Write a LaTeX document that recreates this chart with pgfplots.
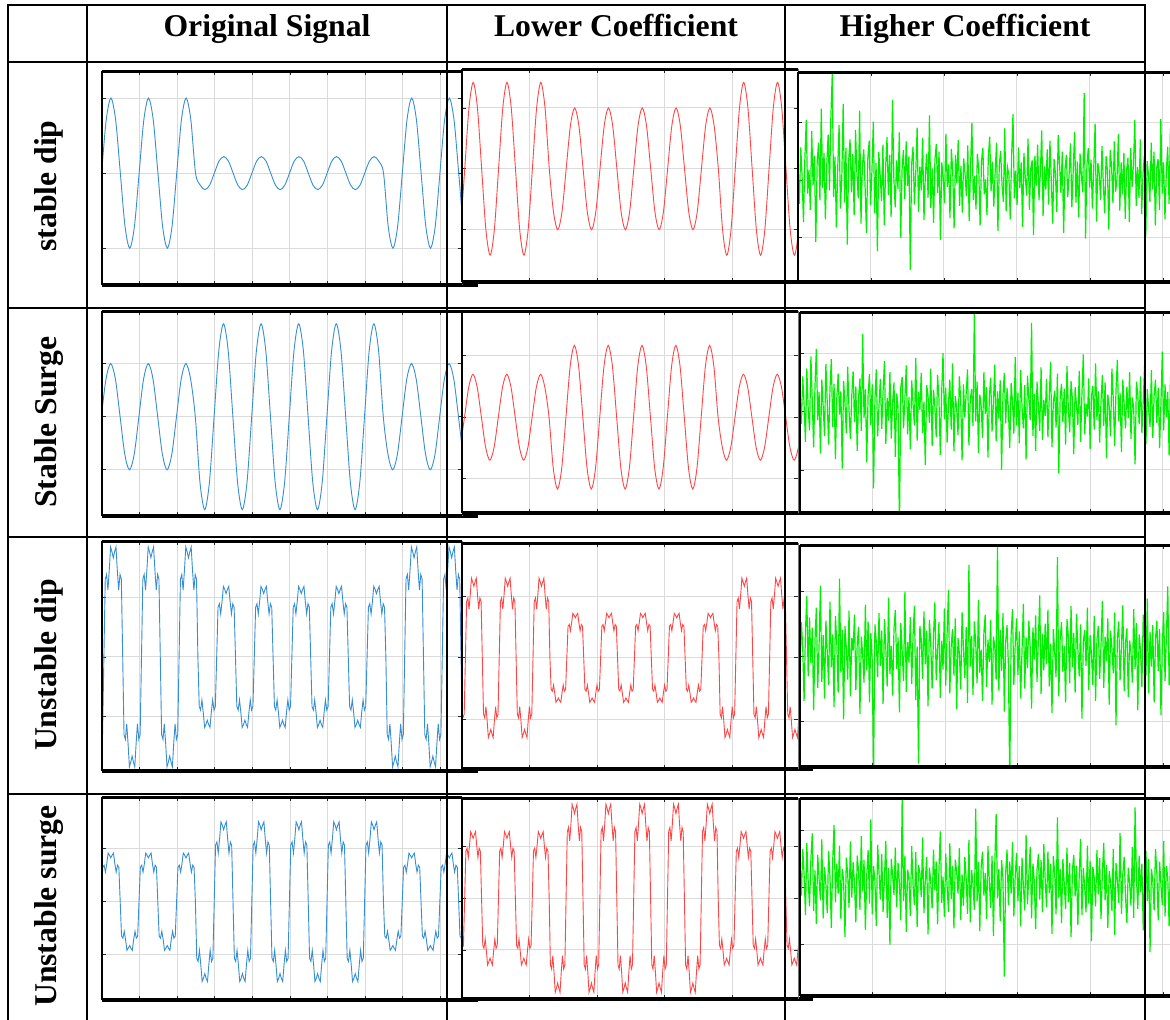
\documentclass[border=0pt]{standalone}
\usepackage{fontspec}
\setmainfont{Liberation Serif}
\usepackage{pgfplots}
\usepackage{pgfplotstable}
\pgfplotsset{compat=1.18}
\definecolor{mblue}{RGB}{55,142,210}
\definecolor{mred}{RGB}{255,70,70}
\definecolor{mgreen}{RGB}{0,240,0}
\newcommand\hf{\fontsize{15.85}{19}\selectfont\bfseries}

% ---------- Original signal, row 1 (stable dip), 8 samples per cycle
\pgfplotstableread[row sep=\\,header=false]{
-.71\\
0\\.71\\1\\.71\\0\\-.71\\-1\\-.71\\
0\\.71\\1\\.71\\0\\-.71\\-1\\-.71\\
0\\.71\\1\\.71\\0\\-.16\\-.22\\-.16\\
0\\.16\\.22\\.16\\0\\-.16\\-.22\\-.16\\
0\\.16\\.22\\.16\\0\\-.16\\-.22\\-.16\\
0\\.16\\.22\\.16\\0\\-.16\\-.22\\-.16\\
0\\.16\\.22\\.16\\0\\-.16\\-.22\\-.16\\
0\\.16\\.22\\.16\\0\\-.71\\-1\\-.71\\
0\\.71\\1\\.71\\0\\-.71\\-1\\-.71\\
0\\.71\\1\\.71\\0\\-.71\\-1\\-.71\\
0\\.71\\
}\tBa
% ---------- Original signal, row 2 (stable surge)
\pgfplotstableread[row sep=\\,header=false]{
-.71\\
0\\.71\\1\\.71\\0\\-.71\\-1\\-.71\\
0\\.71\\1\\.71\\0\\-.71\\-1\\-.71\\
0\\.71\\1\\.71\\0\\-1.24\\-1.75\\-1.24\\
0\\1.24\\1.75\\1.24\\0\\-1.24\\-1.75\\-1.24\\
0\\1.24\\1.75\\1.24\\0\\-1.24\\-1.75\\-1.24\\
0\\1.24\\1.75\\1.24\\0\\-1.24\\-1.75\\-1.24\\
0\\1.24\\1.75\\1.24\\0\\-1.24\\-1.75\\-1.24\\
0\\1.24\\1.75\\1.24\\0\\-.71\\-1\\-.71\\
0\\.71\\1\\.71\\0\\-.71\\-1\\-.71\\
0\\.71\\1\\.71\\0\\-.71\\-1\\-.71\\
0\\.71\\
}\tBb
% ---------- Lower coefficient, row 1
\pgfplotstableread[row sep=\\,header=false]{
-1\\
0\\1\\1.42\\1\\0\\-1\\-1.42\\-1\\
0\\1\\1.42\\1\\0\\-1\\-1.42\\-1\\
0\\1\\1.42\\1\\0\\-.71\\-1\\-.71\\
0\\.71\\1\\.71\\0\\-.71\\-1\\-.71\\
0\\.71\\1\\.71\\0\\-.71\\-1\\-.71\\
0\\.71\\1\\.71\\0\\-.71\\-1\\-.71\\
0\\.71\\1\\.71\\0\\-.71\\-1\\-.71\\
0\\.71\\1\\.71\\0\\-1\\-1.42\\-1\\
0\\1\\1.42\\1\\0\\-1\\-1.42\\-1\\
0\\1\\1.42\\1\\0\\-1\\-1.42\\-1\\
0\\1\\
}\tRa
% ---------- Lower coefficient, row 2
\pgfplotstableread[row sep=\\,header=false]{
-.49\\
0\\.49\\.7\\.49\\0\\-.49\\-.7\\-.49\\
0\\.49\\.7\\.49\\0\\-.49\\-.7\\-.49\\
0\\.49\\.7\\.49\\0\\-.83\\-1.17\\-.83\\
0\\.83\\1.17\\.83\\0\\-.83\\-1.17\\-.83\\
0\\.83\\1.17\\.83\\0\\-.83\\-1.17\\-.83\\
0\\.83\\1.17\\.83\\0\\-.83\\-1.17\\-.83\\
0\\.83\\1.17\\.83\\0\\-.83\\-1.17\\-.83\\
0\\.83\\1.17\\.83\\0\\-.49\\-.7\\-.49\\
0\\.49\\.7\\.49\\0\\-.49\\-.7\\-.49\\
0\\.49\\.7\\.49\\0\\-.49\\-.7\\-.49\\
0\\.49\\
}\tRb
% ---------- Original signal, row 3 (unstable dip), 28 samples per cycle
\pgfplotstableread[row sep=\\,header=false]{
-1.38\\-1.30\\
0\\1.30\\1.38\\1.12\\1.45\\1.84\\1.76\\1.66\\1.76\\1.84\\1.45\\1.12\\1.38\\1.30\\
0\\-1.30\\-1.38\\-1.12\\-1.45\\-1.84\\-1.76\\-1.66\\-1.76\\-1.84\\-1.45\\-1.12\\-1.38\\-1.30\\
0\\1.30\\1.38\\1.12\\1.45\\1.84\\1.76\\1.66\\1.76\\1.84\\1.45\\1.12\\1.38\\1.30\\
0\\-1.30\\-1.38\\-1.12\\-1.45\\-1.84\\-1.76\\-1.66\\-1.76\\-1.84\\-1.45\\-1.12\\-1.38\\-1.30\\
0\\1.30\\1.38\\1.12\\1.45\\1.84\\1.76\\1.66\\1.76\\1.84\\1.45\\1.12\\1.38\\1.30\\
0\\-.83\\-.89\\-.72\\-.93\\-1.18\\-1.13\\-1.06\\-1.13\\-1.18\\-.93\\-.72\\-.89\\-.83\\
0\\.83\\.89\\.72\\.93\\1.18\\1.13\\1.06\\1.13\\1.18\\.93\\.72\\.89\\.83\\
0\\-.83\\-.89\\-.72\\-.93\\-1.18\\-1.13\\-1.06\\-1.13\\-1.18\\-.93\\-.72\\-.89\\-.83\\
0\\.83\\.89\\.72\\.93\\1.18\\1.13\\1.06\\1.13\\1.18\\.93\\.72\\.89\\.83\\
0\\-.83\\-.89\\-.72\\-.93\\-1.18\\-1.13\\-1.06\\-1.13\\-1.18\\-.93\\-.72\\-.89\\-.83\\
0\\.83\\.89\\.72\\.93\\1.18\\1.13\\1.06\\1.13\\1.18\\.93\\.72\\.89\\.83\\
0\\-.83\\-.89\\-.72\\-.93\\-1.18\\-1.13\\-1.06\\-1.13\\-1.18\\-.93\\-.72\\-.89\\-.83\\
0\\.83\\.89\\.72\\.93\\1.18\\1.13\\1.06\\1.13\\1.18\\.93\\.72\\.89\\.83\\
0\\-.83\\-.89\\-.72\\-.93\\-1.18\\-1.13\\-1.06\\-1.13\\-1.18\\-.93\\-.72\\-.89\\-.83\\
0\\.83\\.89\\.72\\.93\\1.18\\1.13\\1.06\\1.13\\1.18\\.93\\.72\\.89\\.83\\
0\\-1.30\\-1.38\\-1.12\\-1.45\\-1.84\\-1.76\\-1.66\\-1.76\\-1.84\\-1.45\\-1.12\\-1.38\\-1.30\\
0\\1.30\\1.38\\1.12\\1.45\\1.84\\1.76\\1.66\\1.76\\1.84\\1.45\\1.12\\1.38\\1.30\\
0\\-1.30\\-1.38\\-1.12\\-1.45\\-1.84\\-1.76\\-1.66\\-1.76\\-1.84\\-1.45\\-1.12\\-1.38\\-1.30\\
0\\1.30\\1.38\\1.12\\1.45\\1.84\\1.76\\1.66\\1.76\\1.84\\1.45\\1.12\\1.38\\1.30\\
0\\-1.30\\-1.38\\-1.12\\-1.45\\-1.84\\-1.76\\-1.66\\-1.76\\-1.84\\-1.45\\-1.12\\-1.38\\-1.30\\
0\\
}\tBc
% ---------- Lower coefficient, row 3
\pgfplotstableread[row sep=\\,header=false]{
-.97\\-.91\\
0\\.91\\.97\\.79\\1.02\\1.29\\1.23\\1.16\\1.23\\1.29\\1.02\\.79\\.97\\.91\\
0\\-.91\\-.97\\-.79\\-1.02\\-1.29\\-1.23\\-1.16\\-1.23\\-1.29\\-1.02\\-.79\\-.97\\-.91\\
0\\.91\\.97\\.79\\1.02\\1.29\\1.23\\1.16\\1.23\\1.29\\1.02\\.79\\.97\\.91\\
0\\-.91\\-.97\\-.79\\-1.02\\-1.29\\-1.23\\-1.16\\-1.23\\-1.29\\-1.02\\-.79\\-.97\\-.91\\
0\\.91\\.97\\.79\\1.02\\1.29\\1.23\\1.16\\1.23\\1.29\\1.02\\.79\\.97\\.91\\
0\\-.51\\-.54\\-.44\\-.57\\-.72\\-.69\\-.65\\-.69\\-.72\\-.57\\-.44\\-.54\\-.51\\
0\\.51\\.54\\.44\\.57\\.72\\.69\\.65\\.69\\.72\\.57\\.44\\.54\\.51\\
0\\-.51\\-.54\\-.44\\-.57\\-.72\\-.69\\-.65\\-.69\\-.72\\-.57\\-.44\\-.54\\-.51\\
0\\.51\\.54\\.44\\.57\\.72\\.69\\.65\\.69\\.72\\.57\\.44\\.54\\.51\\
0\\-.51\\-.54\\-.44\\-.57\\-.72\\-.69\\-.65\\-.69\\-.72\\-.57\\-.44\\-.54\\-.51\\
0\\.51\\.54\\.44\\.57\\.72\\.69\\.65\\.69\\.72\\.57\\.44\\.54\\.51\\
0\\-.51\\-.54\\-.44\\-.57\\-.72\\-.69\\-.65\\-.69\\-.72\\-.57\\-.44\\-.54\\-.51\\
0\\.51\\.54\\.44\\.57\\.72\\.69\\.65\\.69\\.72\\.57\\.44\\.54\\.51\\
0\\-.51\\-.54\\-.44\\-.57\\-.72\\-.69\\-.65\\-.69\\-.72\\-.57\\-.44\\-.54\\-.51\\
0\\.51\\.54\\.44\\.57\\.72\\.69\\.65\\.69\\.72\\.57\\.44\\.54\\.51\\
0\\-.91\\-.97\\-.79\\-1.02\\-1.29\\-1.23\\-1.16\\-1.23\\-1.29\\-1.02\\-.79\\-.97\\-.91\\
0\\.91\\.97\\.79\\1.02\\1.29\\1.23\\1.16\\1.23\\1.29\\1.02\\.79\\.97\\.91\\
0\\-.91\\-.97\\-.79\\-1.02\\-1.29\\-1.23\\-1.16\\-1.23\\-1.29\\-1.02\\-.79\\-.97\\-.91\\
0\\.91\\.97\\.79\\1.02\\1.29\\1.23\\1.16\\1.23\\1.29\\1.02\\.79\\.97\\.91\\
0\\-.91\\-.97\\-.79\\-1.02\\-1.29\\-1.23\\-1.16\\-1.23\\-1.29\\-1.02\\-.79\\-.97\\-.91\\
0\\
}\tRc
% ---------- Original signal, row 4 (unstable surge)
\pgfplotstableread[row sep=\\,header=false]{
-.69\\-.65\\
0\\.65\\.69\\.56\\.72\\.92\\.88\\.83\\.88\\.92\\.72\\.56\\.69\\.65\\
0\\-.65\\-.69\\-.56\\-.72\\-.92\\-.88\\-.83\\-.88\\-.92\\-.72\\-.56\\-.69\\-.65\\
0\\.65\\.69\\.56\\.72\\.92\\.88\\.83\\.88\\.92\\.72\\.56\\.69\\.65\\
0\\-.65\\-.69\\-.56\\-.72\\-.92\\-.88\\-.83\\-.88\\-.92\\-.72\\-.56\\-.69\\-.65\\
0\\.65\\.69\\.56\\.72\\.92\\.88\\.83\\.88\\.92\\.72\\.56\\.69\\.65\\
0\\-1.07\\-1.13\\-.92\\-1.19\\-1.51\\-1.45\\-1.36\\-1.45\\-1.51\\-1.19\\-.92\\-1.13\\-1.07\\
0\\1.07\\1.13\\.92\\1.19\\1.51\\1.45\\1.36\\1.45\\1.51\\1.19\\.92\\1.13\\1.07\\
0\\-1.07\\-1.13\\-.92\\-1.19\\-1.51\\-1.45\\-1.36\\-1.45\\-1.51\\-1.19\\-.92\\-1.13\\-1.07\\
0\\1.07\\1.13\\.92\\1.19\\1.51\\1.45\\1.36\\1.45\\1.51\\1.19\\.92\\1.13\\1.07\\
0\\-1.07\\-1.13\\-.92\\-1.19\\-1.51\\-1.45\\-1.36\\-1.45\\-1.51\\-1.19\\-.92\\-1.13\\-1.07\\
0\\1.07\\1.13\\.92\\1.19\\1.51\\1.45\\1.36\\1.45\\1.51\\1.19\\.92\\1.13\\1.07\\
0\\-1.07\\-1.13\\-.92\\-1.19\\-1.51\\-1.45\\-1.36\\-1.45\\-1.51\\-1.19\\-.92\\-1.13\\-1.07\\
0\\1.07\\1.13\\.92\\1.19\\1.51\\1.45\\1.36\\1.45\\1.51\\1.19\\.92\\1.13\\1.07\\
0\\-1.07\\-1.13\\-.92\\-1.19\\-1.51\\-1.45\\-1.36\\-1.45\\-1.51\\-1.19\\-.92\\-1.13\\-1.07\\
0\\1.07\\1.13\\.92\\1.19\\1.51\\1.45\\1.36\\1.45\\1.51\\1.19\\.92\\1.13\\1.07\\
0\\-.65\\-.69\\-.56\\-.72\\-.92\\-.88\\-.83\\-.88\\-.92\\-.72\\-.56\\-.69\\-.65\\
0\\.65\\.69\\.56\\.72\\.92\\.88\\.83\\.88\\.92\\.72\\.56\\.69\\.65\\
0\\-.65\\-.69\\-.56\\-.72\\-.92\\-.88\\-.83\\-.88\\-.92\\-.72\\-.56\\-.69\\-.65\\
0\\.65\\.69\\.56\\.72\\.92\\.88\\.83\\.88\\.92\\.72\\.56\\.69\\.65\\
0\\-.65\\-.69\\-.56\\-.72\\-.92\\-.88\\-.83\\-.88\\-.92\\-.72\\-.56\\-.69\\-.65\\
0\\
}\tBd
% ---------- Lower coefficient, row 4
\pgfplotstableread[row sep=\\,header=false]{
-.97\\-.91\\
0\\.91\\.97\\.79\\1.02\\1.29\\1.23\\1.16\\1.23\\1.29\\1.02\\.79\\.97\\.91\\
0\\-.91\\-.97\\-.79\\-1.02\\-1.29\\-1.23\\-1.16\\-1.23\\-1.29\\-1.02\\-.79\\-.97\\-.91\\
0\\.91\\.97\\.79\\1.02\\1.29\\1.23\\1.16\\1.23\\1.29\\1.02\\.79\\.97\\.91\\
0\\-.91\\-.97\\-.79\\-1.02\\-1.29\\-1.23\\-1.16\\-1.23\\-1.29\\-1.02\\-.79\\-.97\\-.91\\
0\\.91\\.97\\.79\\1.02\\1.29\\1.23\\1.16\\1.23\\1.29\\1.02\\.79\\.97\\.91\\
0\\-1.29\\-1.37\\-1.11\\-1.43\\-1.82\\-1.74\\-1.64\\-1.74\\-1.82\\-1.43\\-1.11\\-1.37\\-1.29\\
0\\1.29\\1.37\\1.11\\1.43\\1.82\\1.74\\1.64\\1.74\\1.82\\1.43\\1.11\\1.37\\1.29\\
0\\-1.29\\-1.37\\-1.11\\-1.43\\-1.82\\-1.74\\-1.64\\-1.74\\-1.82\\-1.43\\-1.11\\-1.37\\-1.29\\
0\\1.29\\1.37\\1.11\\1.43\\1.82\\1.74\\1.64\\1.74\\1.82\\1.43\\1.11\\1.37\\1.29\\
0\\-1.29\\-1.37\\-1.11\\-1.43\\-1.82\\-1.74\\-1.64\\-1.74\\-1.82\\-1.43\\-1.11\\-1.37\\-1.29\\
0\\1.29\\1.37\\1.11\\1.43\\1.82\\1.74\\1.64\\1.74\\1.82\\1.43\\1.11\\1.37\\1.29\\
0\\-1.29\\-1.37\\-1.11\\-1.43\\-1.82\\-1.74\\-1.64\\-1.74\\-1.82\\-1.43\\-1.11\\-1.37\\-1.29\\
0\\1.29\\1.37\\1.11\\1.43\\1.82\\1.74\\1.64\\1.74\\1.82\\1.43\\1.11\\1.37\\1.29\\
0\\-1.29\\-1.37\\-1.11\\-1.43\\-1.82\\-1.74\\-1.64\\-1.74\\-1.82\\-1.43\\-1.11\\-1.37\\-1.29\\
0\\1.29\\1.37\\1.11\\1.43\\1.82\\1.74\\1.64\\1.74\\1.82\\1.43\\1.11\\1.37\\1.29\\
0\\-.91\\-.97\\-.79\\-1.02\\-1.29\\-1.23\\-1.16\\-1.23\\-1.29\\-1.02\\-.79\\-.97\\-.91\\
0\\.91\\.97\\.79\\1.02\\1.29\\1.23\\1.16\\1.23\\1.29\\1.02\\.79\\.97\\.91\\
0\\-.91\\-.97\\-.79\\-1.02\\-1.29\\-1.23\\-1.16\\-1.23\\-1.29\\-1.02\\-.79\\-.97\\-.91\\
0\\.91\\.97\\.79\\1.02\\1.29\\1.23\\1.16\\1.23\\1.29\\1.02\\.79\\.97\\.91\\
0\\-.91\\-.97\\-.79\\-1.02\\-1.29\\-1.23\\-1.16\\-1.23\\-1.29\\-1.02\\-.79\\-.97\\-.91\\
0\\
}\tRd
% ---------- Higher coefficient (detail), rows 1-4
\pgfplotstableread[row sep=\\,header=false]{
.12\\-.35\\.48\\.05\\-.62\\.31\\.88\\-.20\\.15\\-.44\\.72\\-.08\\.36\\-.91\\.27\\.55\\-.30\\1.05\\-.12\\.40\\
-.58\\.22\\.67\\-.15\\.93\\1.56\\-.25\\.34\\-.70\\.18\\.81\\-.42\\.06\\1.12\\-.33\\.47\\-.95\\.29\\.60\\-.18\\
.38\\-.52\\.74\\.10\\-.27\\1.02\\-.64\\.21\\.45\\-.11\\-.78\\.33\\.58\\-.37\\.14\\.86\\-.49\\.25\\-1.05\\.41\\
.07\\-.31\\.52\\-.66\\.19\\.63\\-.22\\.37\\-.54\\1.18\\.02\\-.40\\.29\\-.13\\.70\\-.85\\.16\\.44\\-.28\\.57\\
-.09\\.35\\-1.32\\.24\\.49\\-.36\\.11\\.77\\-.47\\.20\\-.15\\.62\\-.59\\.08\\.39\\-.26\\.95\\-.41\\.17\\-.63\\
.30\\.53\\-.19\\.42\\-.88\\.26\\.04\\-.34\\.68\\-.10\\.23\\-.56\\.46\\.13\\-.71\\.37\\-.05\\.59\\-.38\\.21\\
-.48\\.32\\.09\\-.24\\.51\\-.60\\.18\\.84\\-.29\\.06\\-.43\\.39\\.15\\-.67\\.28\\.47\\-.21\\.01\\-.52\\.34\\
.64\\-.16\\.27\\-.39\\.12\\.55\\-.75\\.22\\.43\\-.07\\-.32\\.76\\-.46\\.19\\.08\\-.58\\.35\\.97\\-.27\\.14\\
-.37\\.48\\-.12\\.26\\-.69\\.40\\.03\\-.23\\.61\\-.44\\.17\\.29\\-.81\\.36\\-.09\\.52\\-.30\\.11\\.73\\-.53\\
.20\\-.14\\.45\\-.36\\.58\\-.02\\-.64\\.31\\.10\\-.47\\.66\\.24\\-.19\\.42\\-.78\\.16\\.37\\-.25\\.08\\.54\\
-.40\\.13\\.71\\-.33\\.27\\-.55\\.39\\.05\\-.18\\1.28\\-.86\\.22\\.47\\-.11\\.30\\-.42\\.18\\.83\\-.61\\.25\\
.09\\-.29\\.50\\-.06\\-.49\\.35\\.14\\-.73\\.44\\.21\\-.34\\.57\\-.17\\.03\\.68\\-.45\\.26\\-.21\\.40\\-.57\\
.15\\.33\\-.62\\.47\\-.10\\.23\\.88\\-.38\\.19\\-.26\\.60\\-.50\\.11\\.36\\-.83\\.28\\.07\\-.32\\.55\\-.14\\
.42\\-.67\\.18\\.31\\-.44\\.90\\-.20\\.26\\-.58\\.12\\.49\\-.35\\.75\\-.08\\.38\\-.91\\.24\\.61\\-.27\\.17\\
}\tGa
\pgfplotstableread[row sep=\\,header=false]{
.25\\-.18\\.52\\.10\\-.44\\.63\\.05\\-.27\\.81\\.16\\-.52\\.38\\.92\\-.12\\.29\\-.61\\.47\\.08\\-.35\\.70\\
.13\\-.48\\.34\\.77\\-.22\\.41\\-.69\\.19\\.56\\-.04\\.30\\-.83\\.45\\.12\\-.31\\.66\\.02\\-.40\\.24\\.59\\
-.15\\.37\\-.57\\.21\\.49\\-.28\\1.14\\-.09\\.33\\-.74\\.26\\.55\\-.19\\.40\\-1.12\\.17\\.62\\-.36\\.09\\.48\\
-.25\\.31\\.74\\-.47\\.20\\-.13\\.58\\-.39\\.14\\.43\\-.66\\.27\\.07\\-1.72\\.36\\.51\\-.24\\.18\\.68\\-.33\\
.22\\-.55\\.46\\.11\\-.20\\.79\\-.42\\.29\\.03\\.57\\-.31\\.15\\-.78\\.39\\.24\\-.16\\.63\\-.50\\.32\\.08\\
-.37\\.54\\.19\\-.63\\.28\\.86\\-.11\\.35\\-.45\\.12\\.47\\-.26\\.71\\-.58\\.23\\.06\\-.34\\.52\\.16\\-.71\\
.40\\-.08\\.27\\.62\\-.49\\.18\\.33\\-.21\\1.47\\-.14\\.44\\-.60\\.25\\.09\\-.38\\.58\\-.03\\.36\\-.67\\.21\\
.50\\-.29\\.13\\.69\\-.43\\.30\\-.10\\.46\\-.85\\.24\\.57\\-.17\\.35\\.04\\-.53\\.42\\.15\\-.32\\.80\\-.20\\
.28\\-.46\\.61\\.07\\-.24\\.39\\-.70\\.53\\.19\\-.12\\1.30\\-.35\\.26\\-.57\\.44\\.10\\-.28\\.65\\-.41\\.17\\
-.06\\.48\\-.37\\.22\\.73\\-.52\\.14\\.31\\-.23\\.56\\-.90\\.20\\.41\\-.15\\.34\\-.48\\.67\\.05\\-.30\\.45\\
.18\\-.62\\.36\\.09\\-.19\\.60\\-.44\\.27\\.84\\-.33\\.12\\-.07\\.49\\-.55\\.23\\.38\\-.26\\.71\\-.12\\.30\\
-.45\\.16\\.54\\-.21\\.43\\-.68\\.25\\.08\\-.36\\.63\\.19\\-.50\\.32\\.76\\-.14\\.28\\-.59\\.47\\.11\\-.24\\
.37\\-.09\\.58\\-.40\\.21\\.05\\-.77\\.44\\.26\\-.18\\.52\\-.31\\.15\\.69\\-.47\\.33\\.02\\-.22\\.61\\-.38\\
.24\\.47\\-.16\\.35\\-.53\\.12\\.88\\-.27\\.40\\-.08\\.29\\-.64\\.51\\.14\\-.20\\.66\\-.43\\.30\\.07\\-.35\\
}\tGb
\pgfplotstableread[row sep=\\,header=false]{
-.20\\.45\\.12\\-.58\\.33\\.79\\-.26\\.51\\-.09\\.38\\-.70\\.22\\.64\\-.41\\.15\\.93\\-.33\\.28\\-.55\\.47\\
.06\\-.37\\.72\\-.14\\.29\\-.66\\.53\\.18\\-.47\\1.02\\-.21\\.35\\-.82\\.40\\.11\\-.30\\.60\\-.52\\.24\\.08\\
.55\\-.44\\.17\\.39\\-.75\\.26\\.03\\-.34\\.68\\-.18\\.46\\-.60\\.31\\-.05\\-1.55\\.42\\.20\\-.27\\.57\\-.12\\
.34\\-.62\\.49\\.10\\-.39\\.77\\-.23\\.14\\-.51\\.37\\.61\\-.16\\.25\\-.73\\.44\\.07\\-.32\\.85\\-.46\\.19\\
-.08\\.52\\-.36\\.28\\.66\\-.57\\.13\\-1.40\\.40\\.23\\-.29\\.59\\-.10\\.34\\-.65\\.48\\.16\\-.42\\.27\\.71\\
-.31\\.09\\.45\\-.54\\.21\\-.17\\.63\\-.38\\.30\\.87\\-.48\\.15\\.36\\-.25\\.50\\-.69\\.24\\.04\\-.43\\.58\\
.11\\-.28\\.39\\-.61\\1.20\\-.13\\.27\\-.50\\.46\\.18\\-.35\\.74\\-.21\\.09\\-.58\\.32\\.55\\-.40\\.22\\-.07\\
.48\\-.63\\.26\\.13\\-.30\\1.46\\-.45\\.35\\-.19\\.57\\-.72\\.20\\.41\\-.11\\-1.65\\.29\\.62\\-.37\\.16\\.50\\
-.24\\.33\\-.55\\.08\\.69\\-.42\\.25\\-.15\\.47\\.12\\-.68\\.38\\-.04\\.54\\-.33\\.21\\.80\\-.49\\.30\\-.18\\
.43\\-.10\\.61\\-.39\\.17\\-.74\\.36\\.05\\-.27\\1.30\\-.52\\.23\\.45\\-.20\\.14\\-.60\\.49\\.27\\-.35\\.66\\
-.14\\.31\\-.47\\.56\\.09\\-.26\\.42\\-.81\\.19\\.35\\-.12\\.64\\-.44\\.28\\.02\\-.37\\.53\\-.58\\.22\\.40\\
-.29\\.15\\.73\\-.41\\.26\\-.06\\.50\\-.63\\.34\\.11\\-.22\\.58\\-.90\\.24\\.46\\-.31\\.13\\.67\\-.45\\.18\\
.37\\-.53\\.21\\.05\\-.34\\.62\\-.16\\.44\\-.70\\.29\\.08\\-.40\\.55\\.19\\-.25\\.76\\-.48\\.32\\-.13\\.41\\
-.60\\.23\\.47\\-.19\\.36\\-.77\\.14\\.58\\-.32\\.26\\.92\\-.38\\.10\\.45\\-.56\\.30\\.69\\-.22\\.52\\-.09\\
}\tGc
\pgfplotstableread[row sep=\\,header=false]{
.35\\-.12\\.58\\.20\\-.41\\.67\\.09\\-.28\\.44\\.81\\-.35\\.26\\-.54\\.49\\.13\\-.19\\.72\\-.46\\.31\\.05\\
-.38\\.55\\.17\\-.60\\.40\\.94\\-.22\\.36\\-.09\\.63\\-.47\\.28\\.12\\-.74\\.45\\.21\\-.30\\.69\\-.15\\.38\\
.07\\-.52\\.48\\.25\\-.33\\.77\\-.06\\.41\\-.63\\.19\\.56\\-.24\\1.02\\-.40\\.32\\.10\\-.57\\.64\\.23\\-.18\\
.50\\-.36\\.14\\.70\\-.45\\.29\\-.85\\.43\\.18\\-.11\\.60\\-.29\\.37\\.06\\-.49\\1.33\\-.20\\.47\\-.66\\.27\\
.15\\-.42\\.62\\.04\\-.26\\.53\\-.59\\.34\\.22\\-.14\\.75\\-.38\\.11\\.46\\-.70\\.30\\.08\\-.31\\.57\\-.04\\
.39\\-.55\\.27\\.84\\-.23\\.16\\-.44\\.51\\.02\\-.36\\.66\\-.17\\.33\\-.61\\.42\\.24\\-.09\\.59\\-.48\\.20\\
-.27\\.46\\.13\\-.39\\.71\\-.52\\.26\\.05\\-.33\\1.18\\-.21\\.38\\-.65\\.31\\.54\\-.12\\.22\\-.47\\.62\\.09\\
-.30\\.48\\-.72\\.35\\1.10\\-.16\\.28\\-.50\\.41\\.14\\-1.33\\.23\\.57\\-.26\\.39\\-.09\\.68\\-.43\\.17\\.52\\
-.20\\.32\\-.58\\.45\\.03\\-.34\\.79\\-.25\\.19\\.61\\-.46\\.36\\.10\\-.62\\.27\\.50\\-.18\\.41\\-.37\\.65\\
.12\\-.29\\.54\\-.08\\.35\\-.69\\.47\\.21\\-.40\\1.05\\-.15\\.28\\-.53\\.43\\.06\\-.32\\.60\\-.22\\.37\\-.74\\
.26\\.49\\-.13\\.33\\-.56\\.18\\.73\\-.41\\.29\\.01\\-.37\\.63\\-.24\\.40\\-.80\\.31\\.15\\-.28\\.56\\-.10\\
.44\\-.47\\.22\\.67\\-.19\\.34\\-.60\\.25\\.08\\-.35\\.58\\-.71\\.37\\.12\\-.23\\.82\\-.39\\.20\\.46\\-.14\\
-.53\\.30\\.07\\-.27\\.61\\-.45\\1.20\\.16\\-.32\\.48\\-.07\\.36\\-.64\\.24\\.55\\-.20\\.43\\-.96\\.28\\.11\\
-.34\\.58\\.21\\-.49\\.39\\.04\\-.26\\.70\\-.43\\.32\\.15\\-.58\\.47\\.23\\-.17\\.63\\-.35\\.26\\.09\\.50\\
}\tGd

\pgfplotsset{
  panel/.style={
    scale only axis, anchor=north west,
    axis background/.style={fill=white},
    axis line style={draw=none},
    xticklabels={}, yticklabels={},
    ytick={-1,0,1},
    grid=major, major grid style={black!14, line width=0.5pt},
    tick align=inside, major tick length=2pt,
    tick style={black!85, line width=0.4pt},
    clip mode=individual,
    extra description/.code={
      \draw[line width=1.5pt] (axis description cs:0,1) -- (axis description cs:1,1);
      \draw[line width=2pt] (axis description cs:0,0) -- (axis description cs:1.045,0);
      \draw[line width=1pt] (axis description cs:0,0) -- (axis description cs:0,1);
      \draw[black!55, line width=0.5pt] (axis description cs:1,0) -- (axis description cs:1,1);
    },
  },
  bl/.style={mblue, line width=0.45pt},
  rd/.style={mred, line width=0.45pt},
  gr/.style={mgreen, line width=0.6pt},
  gpanel/.style={panel, xmin=0, xmax=279, xtick={0,53.3,...,266.5}, ytick={-0.85,0,0.85}},
}

\begin{document}
\begin{tikzpicture}
\useasboundingbox (0,0) rectangle (585pt,-509.5pt);
\clip (0,0) rectangle (585pt,-509.5pt);

% ---------------- row 1: stable dip
\begin{axis}[panel, at={(51pt,-35.5pt)}, width=180pt, height=107pt,
  xmin=1.1, xmax=77.7, ymin=-1.49, ymax=1.36, xtick={1.1,9.1,...,73.1}]
\addplot[bl, smooth] table[x expr=\coordindex, y index=0] {\tBa};
\end{axis}
\begin{axis}[panel, at={(231pt,-34.5pt)}, width=168pt, height=106.5pt,
  xmin=0.35, xmax=79.85, ymin=-1.86, ymax=1.64, xtick={0.35,16.35,...,64.35}]
\addplot[rd, smooth] table[x expr=\coordindex, y index=0] {\tRa};
\end{axis}
\begin{axis}[gpanel, at={(399pt,-36pt)}, width=191pt, height=105pt,
  ymin=-1.50, ymax=1.59]
\addplot[gr] table[x expr=\coordindex, y index=0] {\tGa};
\end{axis}

% ---------------- row 2: stable surge
\begin{axis}[panel, at={(51pt,-155.5pt)}, width=180pt, height=102.5pt,
  xmin=1.15, xmax=77.75, ymin=-1.87, ymax=1.99, xtick={1.15,9.15,...,73.15}]
\addplot[bl, smooth] table[x expr=\coordindex, y index=0] {\tBb};
\end{axis}
\begin{axis}[panel, at={(231pt,-155.5pt)}, width=168pt, height=101pt,
  xmin=0.41, xmax=79.91, ymin=-1.56, ymax=1.73, xtick={0.41,16.41,...,64.41}]
\addplot[rd, smooth] table[x expr=\coordindex, y index=0] {\tRb};
\end{axis}
\begin{axis}[gpanel, at={(400pt,-156pt)}, width=190pt, height=100.5pt,
  ymin=-1.48, ymax=1.46]
\addplot[gr] table[x expr=\coordindex, y index=0] {\tGb};
\end{axis}

% ---------------- row 3: unstable dip
\begin{axis}[panel, at={(51pt,-270.5pt)}, width=180pt, height=115pt,
  xmin=0.59, xmax=268.7, ymin=-1.91, ymax=1.94, xtick={0.59,28.59,...,252.59}]
\addplot[bl] table[x expr=\coordindex, y index=0] {\tBc};
\end{axis}
\begin{axis}[panel, at={(231pt,-271.5pt)}, width=168pt, height=113pt,
  xmin=-0.82, xmax=277.5, ymin=-1.80, ymax=1.86, xtick={-0.82,55.18,...,223.18}]
\addplot[rd] table[x expr=\coordindex, y index=0] {\tRc};
\end{axis}
\begin{axis}[gpanel, at={(400pt,-272.5pt)}, width=190pt, height=111pt,
  ymin=-1.445, ymax=1.46]
\addplot[gr] table[x expr=\coordindex, y index=0] {\tGc};
\end{axis}

% ---------------- row 4: unstable surge
\begin{axis}[panel, at={(51pt,-398.5pt)}, width=180pt, height=101.5pt,
  xmin=2.45, xmax=270.5, ymin=-1.86, ymax=1.98, xtick={2.45,30.45,...,254.45}]
\addplot[bl] table[x expr=\coordindex, y index=0] {\tBd};
\end{axis}
\begin{axis}[panel, at={(231pt,-399pt)}, width=168pt, height=100.5pt,
  xmin=-0.2, xmax=278.1, ymin=-1.95, ymax=1.94, xtick={-0.2,55.8,...,223.8}]
\addplot[rd] table[x expr=\coordindex, y index=0] {\tRd};
\end{axis}
\begin{axis}[gpanel, at={(400pt,-399pt)}, width=190pt, height=99pt,
  ymin=-1.62, ymax=1.34]
\addplot[gr] table[x expr=\coordindex, y index=0] {\tGd};
\end{axis}

% ---------------- table rules and labels
\begin{scope}[x=0.5pt, y=-0.5pt, line width=1pt, line cap=rect]
\draw (8,5) -- (1145,5);
\draw (8,62) -- (1145,62);
\draw (8,308) -- (1145,308);
\draw (8,537) -- (1145,537);
\draw (8,794) -- (1145,794);
\foreach \xx in {8,87,447,785,1145} \draw (\xx,5) -- (\xx,1030);
\node[font=\hf, anchor=base, inner sep=0pt] at (267,36) {Original Signal};
\node[font=\hf, anchor=base, inner sep=0pt] at (616,36) {Lower Coefficient};
\node[font=\hf, anchor=base, inner sep=0pt] at (965,36) {Higher Coefficient};
\node[font=\hf, anchor=base, rotate=90, inner sep=0pt] at (56.5,186) {stable dip};
\node[font=\hf, anchor=base, rotate=90, inner sep=0pt] at (56.5,422) {Stable Surge};
\node[font=\hf, anchor=base, rotate=90, inner sep=0pt] at (56.5,665) {Unstable dip};
\node[font=\hf, anchor=base, rotate=90, inner sep=0pt] at (56.5,906) {Unstable surge};
\end{scope}
\end{tikzpicture}
\end{document}
